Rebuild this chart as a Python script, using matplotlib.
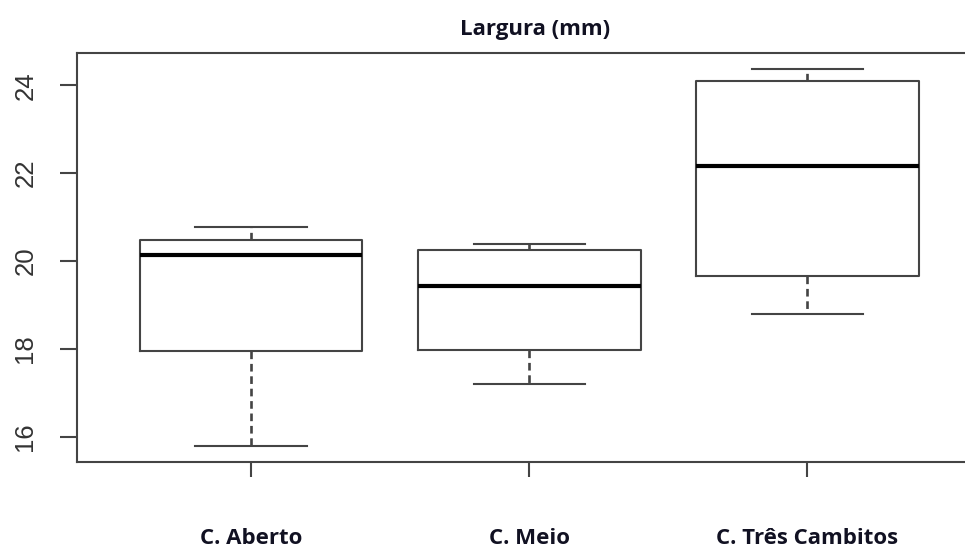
import matplotlib.pyplot as plt

# Valori (boxplot in stile R)
grupos = ['C. Aberto', 'C. Meio', 'C. Três Cambitos']
whisker_baixo = [15.78, 17.20, 18.79]
q1 = [17.96, 17.98, 19.65]
mediana = [20.13, 19.43, 22.17]
q3 = [20.49, 20.25, 24.11]
whisker_alto = [20.77, 20.38, 24.38]

stats = []
for i in range(len(grupos)):
    stats.append({'label': grupos[i], 'whislo': whisker_baixo[i], 'q1': q1[i],
                  'med': mediana[i], 'q3': q3[i], 'whishi': whisker_alto[i],
                  'fliers': []})

cor_linha = '#444444'

fig = plt.figure(figsize=(9.65, 5.54), dpi=100)
ax = fig.add_axes([77 / 965, 1 - 462 / 554, (980 - 77) / 965, (462 - 53) / 554])

ax.bxp(stats, positions=[1, 2, 3], widths=0.8, capwidths=0.4, showfliers=False,
       boxprops=dict(color=cor_linha, linewidth=1.5),
       whiskerprops=dict(color=cor_linha, linewidth=1.9, linestyle=(0, (2.9, 1.8))),
       capprops=dict(color=cor_linha, linewidth=1.5),
       medianprops=dict(color='black', linewidth=3.0, solid_capstyle='butt'))

ax.set_xlim(0.375, 3.62)
ax.set_ylim(15.42, 24.74)
ax.set_yticks([16, 18, 20, 22, 24])

for s in ax.spines.values():
    s.set_color(cor_linha)
    s.set_linewidth(1.5)
ax.spines['right'].set_visible(False)

ax.tick_params(axis='y', direction='out', length=12.5, width=1.5, color=cor_linha,
               pad=16, labelsize=18.5, labelcolor='#333333')
ax.tick_params(axis='x', direction='out', length=10.5, width=1.5, color=cor_linha,
               pad=37)
for t in ax.get_yticklabels():
    t.set_rotation(90)
    t.set_verticalalignment('center')
    t.set_family('Liberation Sans')
for t in ax.get_xticklabels():
    t.set_family('Open Sans')
    t.set_fontweight('bold')
    t.set_fontsize(16)
    t.set_color('#111122')

ax.set_title('Largura (mm)', x=0.507, pad=13, family='Open Sans', fontweight='bold',
             fontsize=16, color='#111122')

fig.savefig('out.png', dpi=100)
